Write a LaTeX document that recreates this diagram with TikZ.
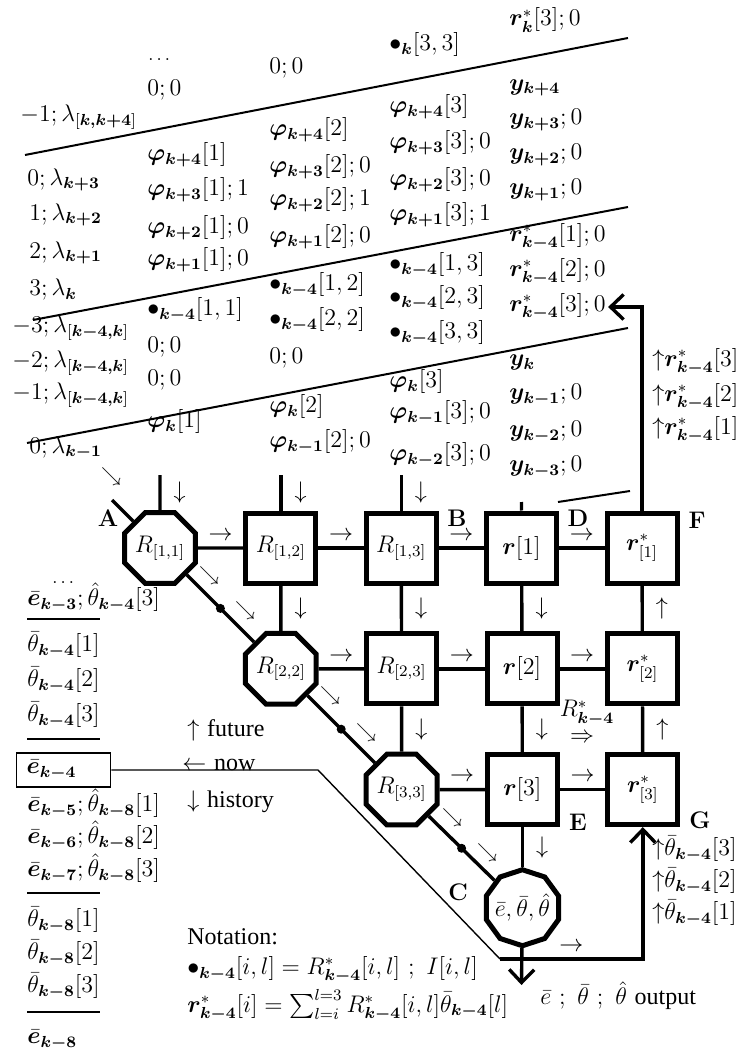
\documentclass[tikz,border=0pt]{standalone}
\usepackage{amsmath,amssymb,bm}
\usepackage{fontspec}
\newfontfamily\tmsfont{Liberation Serif}
\usetikzlibrary{arrows.meta,positioning,shapes.geometric}
\newcommand{\mphi}[2]{\bm{\varphi}_{\bm{#1}}[#2]}
\newcommand{\my}[1]{\bm{y}_{\bm{#1}}}
\newcommand{\mlam}[1]{\lambda_{\bm{#1}}}
\newcommand{\mrs}[2]{\bm{r}^{*}_{\bm{#1}}[#2]}
\newcommand{\mdot}[2]{\bullet_{\bm{#1}}[#2]}
\newcommand{\mebar}[1]{\bar{\bm{e}}_{\bm{#1}}}
\newcommand{\mtbar}[2]{\bar{\theta}_{\bm{#1}}[#2]}
\newcommand{\mthat}[2]{\hat{\theta}_{\bm{#1}}[#2]}
\newcommand{\lamwin}[1]{\lambda_{[\bm{#1}]}}

\begin{document}
\begin{tikzpicture}[
  x=0.5pt, y=-0.5pt,
  node distance=22.7pt,
  every node/.style={font=\large},
  tab/.style={anchor=west, inner sep=1pt},
  cellbox/.style={draw, line width=2.5pt, minimum size=35pt, inner sep=0pt},
  rcell/.style={cellbox, regular polygon, regular polygon sides=8, minimum size=38pt},
  wire/.style={line width=1.7pt},
  slab/.style={line width=1pt},
  rule/.style={line width=0.7pt},
  route/.style={line width=0.7pt},
  tip/.style={-{Straight Barb[length=6.5pt,width=12.5pt]}},
  dot/.style={circle, fill, inner sep=0pt, minimum size=4.5pt},
  lab/.style={font=\large\bfseries},
  sm/.style={font=\normalsize, inner sep=0pt},
  hlab/.style={midway, above=3pt, inner sep=0pt},
  vlab/.style={midway, right=6pt, inner sep=0pt},
  ebx/.style={draw, line width=0.7pt, text width=37pt, inner xsep=5pt, minimum height=17pt},
]
\useasboundingbox (0,0) rectangle (739,1052);

% time slabs
\draw[slab] (25,155) -- (628,38);
\draw[slab] (33,320) -- (628,207);
\draw[slab] (27,443) -- (628,328);
\draw[slab] (558,502) -- (630,491);

% left column
\node[tab] (l1) at (18,117) {$-1; \lamwin{k,k+4}$};
\node[tab] (l2) at (25,180) {$0; \mlam{k+3}$};
\node[tab] (l3) at (27,215) {$1; \mlam{k+2}$};
\node[tab] (l4) at (27,253) {$2; \mlam{k+1}$};
\node[tab] (l5) at (27,290) {$3; \mlam{k}$};
\node[tab] (l6) at (10,328) {$-3; \lamwin{k-4,k}$};
\node[tab] (l7) at (10,363) {$-2; \lamwin{k-4,k}$};
\node[tab] (l8) at (10,395) {$-1; \lamwin{k-4,k}$};
\node[tab] (l9) at (27,448) {$0; \mlam{k-1}$};

% column 1
\node[tab, font=\small] (a0) at (146,60) {$\dots$};
\node[tab] (a1) at (145,90) {$0; 0$};
\node[tab] (a2) at (145,155) {$\mphi{k+4}{1}$};
\node[tab] (a3) at (145,190) {$\mphi{k+3}{1}; 1$};
\node[tab] (a4) at (145,228) {$\mphi{k+2}{1}; 0$};
\node[tab] (a5) at (145,260) {$\mphi{k+1}{1}; 0$};
\node[tab] (a6) at (145,310) {$\mdot{k-4}{1,1}$};
\node[tab] (a7) at (145,347) {$0; 0$};
\node[tab] (a8) at (145,380) {$0; 0$};
\node[tab] (a9) at (145,422) {$\mphi{k}{1}$};

% column 2
\node[tab] (b1) at (267,68) {$0; 0$};
\node[tab] (b2) at (267,130) {$\mphi{k+4}{2}$};
\node[tab] (b3) at (267,167) {$\mphi{k+3}{2}; 0$};
\node[tab] (b4) at (267,200) {$\mphi{k+2}{2}; 1$};
\node[tab] (b5) at (267,237) {$\mphi{k+1}{2}; 0$};
\node[tab] (b6) at (267,285) {$\mdot{k-4}{1,2}$};
\node[tab] (b7) at (267,320) {$\mdot{k-4}{2,2}$};
\node[tab] (b8) at (267,358) {$0; 0$};
\node[tab] (b9) at (267,407) {$\mphi{k}{2}$};
\node[tab] (b10) at (267,442) {$\mphi{k-1}{2}; 0$};

% column 3
\node[tab] (c1) at (387,45) {$\mdot{k}{3,3}$};
\node[tab] (c2) at (387,107) {$\mphi{k+4}{3}$};
\node[tab] (c3) at (387,143) {$\mphi{k+3}{3}; 0$};
\node[tab] (c4) at (387,180) {$\mphi{k+2}{3}; 0$};
\node[tab] (c5) at (387,215) {$\mphi{k+1}{3}; 1$};
\node[tab] (c6) at (387,265) {$\mdot{k-4}{1,3}$};
\node[tab] (c7) at (387,298) {$\mdot{k-4}{2,3}$};
\node[tab] (c8) at (387,333) {$\mdot{k-4}{3,3}$};
\node[tab] (c9) at (387,382) {$\mphi{k}{3}$};
\node[tab] (c10) at (387,413) {$\mphi{k-1}{3}; 0$};
\node[tab] (c11) at (387,455) {$\mphi{k-2}{3}; 0$};

% column 4
\node[tab] (d1) at (507,20) {$\mrs{k}{3}; 0$};
\node[tab] (d2) at (507,88) {$\my{k+4}$};
\node[tab] (d3) at (507,120) {$\my{k+3}; 0$};
\node[tab] (d4) at (507,155) {$\my{k+2}; 0$};
\node[tab] (d5) at (507,190) {$\my{k+1}; 0$};
\node[tab] (d6) at (507,237) {$\mrs{k-4}{1}; 0$};
\node[tab] (d7) at (507,272) {$\mrs{k-4}{2}; 0$};
\node[tab] (rsout) at (507,307) {$\mrs{k-4}{3}; 0$};
\node[tab] (d9) at (507,363) {$\my{k}$};
\node[tab] (d10) at (507,395) {$\my{k-1}; 0$};
\node[tab] (d11) at (507,432) {$\my{k-2}; 0$};
\node[tab] (d12) at (507,467) {$\my{k-3}; 0$};

% right column
\node[tab] (u1) at (650,362) {${\uparrow}\mrs{k-4}{3}$};
\node[tab] (u2) at (650,397) {${\uparrow}\mrs{k-4}{2}$};
\node[tab] (u3) at (650,430) {${\uparrow}\mrs{k-4}{1}$};
\node[tab] (u4) at (650,849) {${\uparrow}\mtbar{k-4}{3}$};
\node[tab] (u5) at (650,881) {${\uparrow}\mtbar{k-4}{2}$};
\node[tab] (u6) at (650,913) {${\uparrow}\mtbar{k-4}{1}$};

% processor array
\node[rcell] (R11) at (160,548) {$R_{[1,1]}$};
\node[cellbox, right=of R11] (R12) {$R_{[1,2]}$};
\node[cellbox, right=of R12] (R13) {$R_{[1,3]}$};
\node[cellbox, right=of R13] (r1) {$\bm{r}[1]$};
\node[cellbox, right=of r1] (rs1) {$\bm{r}^{*}_{[1]}$};
\node[rcell, below=of R12] (R22) {$R_{[2,2]}$};
\node[cellbox, right=of R22] (R23) {$R_{[2,3]}$};
\node[cellbox, right=of R23] (r2) {$\bm{r}[2]$};
\node[cellbox, right=of r2] (rs2) {$\bm{r}^{*}_{[2]}$};
\node[rcell, below=of R23] (R33) {$R_{[3,3]}$};
\node[cellbox, right=of R33] (r3) {$\bm{r}[3]$};
\node[cellbox, right=of r3] (rs3) {$\bm{r}^{*}_{[3]}$};
\node[cellbox, regular polygon, regular polygon sides=10, shape border rotate=18,
      minimum size=38pt, below=20pt of r3] (C) {\makebox[0pt]{$\bar{e},\bar{\theta},\hat{\theta}$}};

\node[lab] (labA) at (108,518) {A};
\node[lab] (labB) at (457,518) {B};
\node[lab] (labD) at (578,518) {D};
\node[lab] (labF) at (697,520) {F};
\node[lab] (labE) at (578,822) {E};
\node[lab] (labG) at (700,820) {G};
\node[lab] (labC) at (458,892) {C};

% inputs from above
\coordinate (in1) at (160,475);
\coordinate (in2) at (R12 |- in1);
\coordinate (in3) at (R13 |- in1);
\coordinate (in4) at (521.5,502);
\coordinate (inA) at (112,500);
\draw[wire] (in1) -- (R11) node[vlab] {$\downarrow$};
\draw[wire] (in2) -- (R12) node[vlab] {$\downarrow$};
\draw[wire] (in3) -- (R13) node[vlab] {$\downarrow$};
\draw[wire] (in4) -- (r1);
\draw[wire] (inA) -- (R11);

% rows
\draw[wire] (R11) -- (R12) node[hlab] {$\rightarrow$};
\draw[wire] (R12) -- (R13) node[hlab] {$\rightarrow$};
\draw[wire] (R13) -- (r1) node[hlab] {$\rightarrow$};
\draw[wire] (r1) -- (rs1) node[hlab] {$\rightarrow$};
\draw[wire] (R22) -- (R23) node[hlab] {$\rightarrow$};
\draw[wire] (R23) -- (r2) node[hlab] {$\rightarrow$};
\draw[wire] (r2) -- (rs2) node[hlab] {$\rightarrow$};
\draw[wire] (R33) -- (r3) node[hlab] {$\rightarrow$};
\draw[wire] (r3) -- (rs3) node[hlab] {$\rightarrow$};

% columns
\draw[wire] (R12) -- (R22) node[vlab] {$\downarrow$};
\draw[wire] (R13) -- (R23) node[vlab] {$\downarrow$};
\draw[wire] (R23) -- (R33) node[vlab] {$\downarrow$};
\draw[wire] (r1) -- (r2) node[vlab] {$\downarrow$};
\draw[wire] (r2) -- (r3) node[vlab] {$\downarrow$};
\draw[wire] (r3) -- (C) node[vlab] {$\downarrow$};
\draw[wire] (rs3) -- (rs2) node[vlab] {$\uparrow$};
\draw[wire] (rs2) -- (rs1) node[vlab] {$\uparrow$};
\draw[wire, tip] (rs1.north) |- (rsout.east);

% diagonal
\draw[wire] (R11) -- (R22) node[dot, midway] (dt1) {};
\draw[wire] (R22) -- (R33) node[dot, midway] (dt2) {};
\draw[wire] (R33) -- (C) node[dot, midway] (dt3) {};
\node[sm] (seA) at (111,476) {$\searrow$};
\node[sm] (se1) at (209,575) {$\searrow$};
\node[sm] (se2) at (245,610) {$\searrow$};
\node[sm] (se3) at (330,695) {$\searrow$};
\node[sm] (se4) at (366,732) {$\searrow$};
\node[sm] (se5) at (452,817) {$\searrow$};
\node[sm] (se6) at (487,852) {$\searrow$};

\node (Rstar) at (587,713) {$R^{*}_{\bm{k-4}}$};
\node (Rarr) at (582,738) {$\Rightarrow$};

% outputs
\coordinate (outC) at (521.5,985);
\draw[wire, tip] (C) -- (outC);
\node[tab] (outtxt) at (538,996) {$\bar{e}\ ;\ \bar{\theta}\ ;\ \hat{\theta}$ \tmsfont output};

% left history stack
\node[tab, font=\small] (h0) at (50,583) {$\dots$};
\node[tab] (h1) at (25,597) {$\mebar{k-3}; \mthat{k-4}{3}$};
\draw[rule] (27,619) -- (100,619);
\node[tab] (h2) at (25,645) {$\mtbar{k-4}{1}$};
\node[tab] (h3) at (25,680) {$\mtbar{k-4}{2}$};
\node[tab] (h4) at (25,715) {$\mtbar{k-4}{3}$};
\draw[rule] (27,739) -- (100,739);
\node[ebx, anchor=west] (ebox) at (16,770) {$\mebar{k-4}$};
\node[tab] (h5) at (25,803) {$\mebar{k-5}; \mthat{k-8}{1}$};
\node[tab] (h6) at (25,835) {$\mebar{k-6}; \mthat{k-8}{2}$};
\node[tab] (h7) at (25,868) {$\mebar{k-7}; \mthat{k-8}{3}$};
\draw[rule] (27,893) -- (100,893);
\node[tab] (h8) at (25,920) {$\mtbar{k-8}{1}$};
\node[tab] (h9) at (25,953) {$\mtbar{k-8}{2}$};
\node[tab] (h10) at (25,986) {$\mtbar{k-8}{3}$};
\draw[rule] (27,1012) -- (100,1012);
\node[tab] (h11) at (25,1040) {$\mebar{k-8}$};

\node[tab] (fut) at (185,730) {$\uparrow$ \tmsfont future};
\node[tab] (now) at (180,765) {$\leftarrow$ \tmsfont now};
\node[tab] (hist) at (185,802) {$\downarrow$ \tmsfont history};

% route of the current e back to the r* column
\coordinate (b1) at (318,770);
\coordinate (b2) at (500,959);
\coordinate (b3) at (rs3 |- b2);
\draw[route] (ebox.east) -- (b1) -- (b2);
\draw[wire, tip] (b2) -- (b3) node[hlab] {$\rightarrow$} -- (rs3);

% notation
\node[tab] (nt0) at (185,937) {\tmsfont Notation:};
\node[tab] (nt1) at (185,970) {$\bullet_{\bm{k-4}}[i,l] = R^{*}_{\bm{k-4}}[i,l]\ ;\ I[i,l]$};
\node[tab] (nt2) at (185,1005) {$\bm{r}^{*}_{\bm{k-4}}[i] = \sum_{l=i}^{l=3} R^{*}_{\bm{k-4}}[i,l]\bar{\theta}_{\bm{k-4}}[l]$};
\end{tikzpicture}
\end{document}
